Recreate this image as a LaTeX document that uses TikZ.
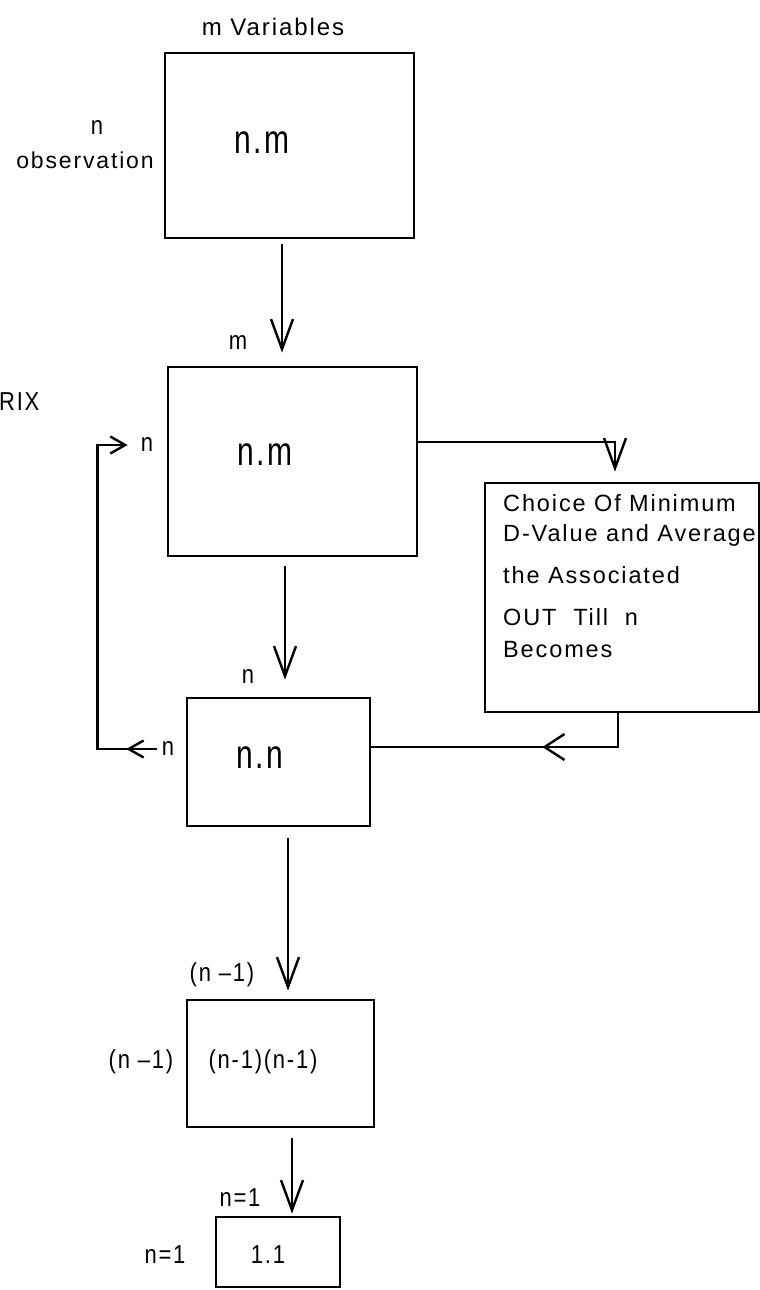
\documentclass[tikz,border=0pt]{standalone}
\usepackage{fontspec}
\setmainfont{Liberation Sans}[LetterSpace=8]
\usepackage{graphicx}
\usetikzlibrary{arrows.meta,decorations.markings}
\tikzset{
  box/.style={draw, line width=2.8pt, inner sep=0pt},
  lbl/.style={inner sep=0pt, font=\fontsize{22}{24}\selectfont},
  big/.style={inner sep=0pt, font=\fontsize{30}{32}\selectfont},
  txt/.style={inner sep=0pt, anchor=west, font=\fontsize{23.5}{25}\selectfont},
  conn/.style={line width=2.4pt},
  arr/.style={conn, -{Straight Barb[length=30pt 0, width=22pt 0]}},
  smallarr/.style={conn, -{Straight Barb[length=15pt 0, width=17pt 0]}},
}
\newcommand{\tall}[1]{\scalebox{1}[1.35]{#1}}
\newcommand{\tl}[1]{\scalebox{1}[1.18]{#1}}
\begin{document}
\begin{tikzpicture}[x=1pt, y=-1pt]
\clip (0,0) rectangle (760,1290);
\fill[white] (0,0) rectangle (760,1290);

% boxes
\node[box, minimum width=249pt, minimum height=185pt] (box1) at (289.5,145.5) {};
\node[box, minimum width=249pt, minimum height=189pt] (box2) at (292.5,461.5) {};
\node[box, minimum width=183pt, minimum height=128pt] (box3) at (278.5,762) {};
\node[box, minimum width=274pt, minimum height=229pt] (box4) at (622,597.5) {};
\node[box, minimum width=187pt, minimum height=127pt] (box5) at (280.5,1063.5) {};
\node[box, minimum width=124pt, minimum height=70pt] (box6) at (278,1252) {};

% texts in boxes
\node[big] (t1) at (262,143) {\tall{n.m}};
\node[big] (t2) at (265,455) {\tall{n.m}};
\node[big] (t3) at (260,758) {\tall{n.n}};
\node[lbl] (t5) at (263,1062) {\tl{(n-1)(n-1)}};
\node[lbl] (t6) at (268,1255) {\tl{1.1}};
\node[txt] (c1) at (503,503) {Choice Of Minimum};
\node[txt] (c2) at (503,535) {D-Value and Average};
\node[txt] (c3) at (503,575) {the Associated};
\node[txt] (c4) at (503,617) {OUT\ \ Till\ \ n};
\node[txt] (c5) at (503,650) {Becomes};

% labels
\node[lbl, font=\fontsize{24}{26}\selectfont] (mvar) at (273,27) {m\ Variables};
\node[lbl] (nobs) at (97,128) {\tl{n}};
\node[lbl, font=\fontsize{23}{25}\selectfont] (obs) at (85,160) {observation};
\node[lbl] (m2) at (238,343) {\tl{m}};
\node[lbl, anchor=west] (rix) at (-1,402) {\tl{RIX}};
\node[lbl] (n2) at (147,445) {\tl{n}};
\node[lbl] (n3top) at (248,677) {\tl{n}};
\node[lbl] (n3) at (168,749) {\tl{n}};
\node[lbl] (n5top) at (222,975) {\tl{(n –1)}};
\node[lbl] (n5) at (141,1062) {\tl{(n –1)}};
\node[lbl] (n6top) at (240,1198) {\tl{n=1}};
\node[lbl] (n6) at (165,1255) {\tl{n=1}};

% connectors
\draw[arr, shorten <=5pt, shorten >=13pt] (box1.south -| 282,0) -- (box2.north -| 282,0);
\draw[arr, shorten <=9pt, shorten >=17pt] (box2.south -| 285,0) -- (box3.north -| 285,0);
\draw[arr, shorten <=11pt, shorten >=8pt] (box3.south -| 288,0) -- (box5.north -| 288,0);
\draw[arr, shorten <=10pt, shorten >=2pt] (box5.south -| 292,0) -- (box6.north -| 292,0);
\draw[arr, shorten >=10pt] ([yshift=19.5pt]box2.east) -| ([xshift=-7pt]box4.north);
\draw[conn, postaction={decorate}, decoration={markings,
   mark=at position 0.39 with {\arrow{Straight Barb[length=20pt 0, width=26pt 0]}}}]
   ([xshift=-4pt]box4.south) |- ([yshift=15pt]box3.east);
\draw[smallarr, shorten >=13pt, postaction={decorate}, decoration={markings,
   mark=at position 0.075 with {\arrow{Straight Barb[length=15pt 0, width=17pt 0]}}}]
   ([xshift=-5pt]n3.west) -| ([xshift=-43pt]n2.west) -- (n2.west);
\end{tikzpicture}
\end{document}
